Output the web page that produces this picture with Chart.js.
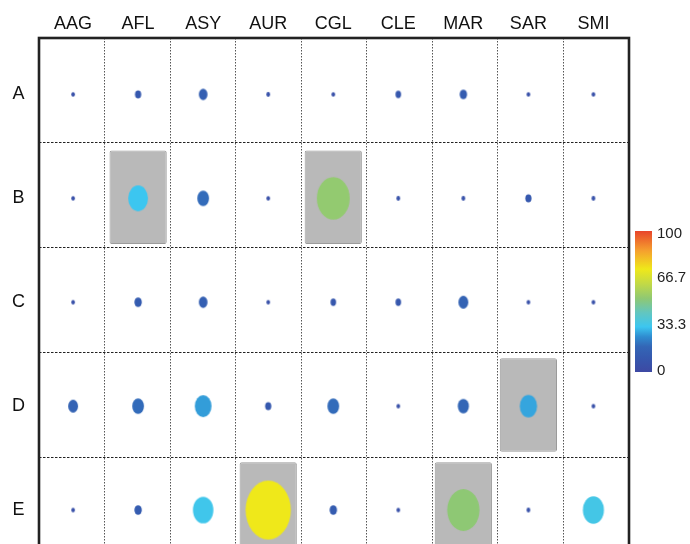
<!DOCTYPE html>
<html>
<head>
<meta charset="utf-8">
<script src="https://cdn.jsdelivr.net/npm/chart.js@4.4.1/dist/chart.umd.min.js"></script>
<style>
  html, body { margin: 0; padding: 0; background: #ffffff; overflow: hidden; }
  #wrap { width: 690px; height: 600px; }
</style>
</head>
<body>
<div id="wrap"><canvas id="grid" width="690" height="600"></canvas></div>
<script>
// Strains (columns) and samples (rows)
const columns = ['AAG', 'AFL', 'ASY', 'AUR', 'CGL', 'CLE', 'MAR', 'SAR', 'SMI'];
const rows = ['A', 'B', 'C', 'D', 'E'];

// Percent values per row, in column order
const rowA = [5, 10, 14, 6, 5, 9, 12, 5, 5];
const rowB = [5, 32, 19, 5, 53, 6, 6, 10, 6];
const rowC = [5, 12, 14, 5, 9, 9, 16, 5, 5];
const rowD = [16, 19, 27, 10, 19, 5, 18, 28, 5];
const rowE = [5, 12, 33, 73, 12, 5, 52, 6, 34];
const rowValues = [rowA, rowB, rowC, rowD, rowE];

// Cells shaded grey: [row, column]
const highlighted = [['B', 'AFL'], ['B', 'CGL'], ['D', 'SAR'], ['E', 'AUR'], ['E', 'MAR']];

// Colour bar tick labels
const barTicks = [0, 33.3, 66.7, 100];
const barTickLabels = ['0', '33.3', '66.7', '100'];

// Colour scale stops (value, colour)
const colorStops = [
  [0, '#3d49a3'], [10, '#3558ae'], [18, '#3366b6'], [25, '#2f8cd0'],
  [32, '#3cc6f0'], [42, '#62c6c0'], [52, '#8ec874'], [63, '#c4da44'],
  [73, '#efe81a'], [86, '#f5a02e'], [100, '#e8452b']
];

function hexRgb(h) {
  const n = parseInt(h.slice(1), 16);
  return [(n >> 16) & 255, (n >> 8) & 255, n & 255];
}
function colorFor(v) {
  v = Math.max(0, Math.min(100, v));
  for (let i = 1; i < colorStops.length; i++) {
    const [v1, c1] = colorStops[i];
    const [v0, c0] = colorStops[i - 1];
    if (v <= v1) {
      const t = (v - v0) / (v1 - v0);
      const a = hexRgb(c0), b = hexRgb(c1);
      const m = a.map((x, k) => Math.round(x + (b[k] - x) * t));
      return `rgb(${m[0]},${m[1]},${m[2]})`;
    }
  }
  return colorStops[colorStops.length - 1][1];
}

// Oval marker: width grows with the value, slightly taller than wide
const spriteCache = {};
function ovalSprite(v) {
  if (spriteCache[v]) return spriteCache[v];
  const w = Math.max(3.6, 0.62 * v);
  const h = w * 1.3;
  const cv = document.createElement('canvas');
  cv.width = Math.ceil(w) + 4;
  cv.height = Math.ceil(h) + 4;
  const g = cv.getContext('2d');
  g.fillStyle = colorFor(v);
  g.beginPath();
  g.ellipse(cv.width / 2, cv.height / 2, w / 2, h / 2, 0, 0, Math.PI * 2);
  g.fill();
  spriteCache[v] = cv;
  return cv;
}

const points = [];
rows.forEach((r, ri) => {
  columns.forEach((c, ci) => {
    points.push({ x: ci + 1, y: ri + 1, v: rowValues[ri][ci] });
  });
});

const boxes = highlighted.map(([r, c]) => {
  const ri = rows.indexOf(r) + 1;
  return { x: columns.indexOf(c) + 1, y: [ri - 0.46, ri + 0.44] };
});

const labelFont = { family: "'Liberation Sans', Arial, sans-serif", size: 18 };

// Frame around the plot area
const framePlugin = {
  id: 'frame',
  afterDraw(chart) {
    const { ctx, chartArea: a } = chart;
    ctx.save();
    ctx.strokeStyle = '#222';
    ctx.lineWidth = 2.6;
    ctx.strokeRect(a.left, a.top, a.right - a.left, a.bottom - a.top);
    ctx.restore();
  }
};

// Vertical colour bar with its tick labels
const colorBarPlugin = {
  id: 'colorBar',
  afterDraw(chart) {
    const { ctx, chartArea: a } = chart;
    const x = a.right + 6, w = 17, top = 231, bottom = 372;
    const grad = ctx.createLinearGradient(0, bottom, 0, top);
    colorStops.forEach(([v, c]) => grad.addColorStop(v / 100, c));
    ctx.save();
    ctx.fillStyle = grad;
    ctx.fillRect(x, top, w, bottom - top);
    ctx.fillStyle = '#222';
    ctx.font = "15px 'Liberation Sans', Arial, sans-serif";
    ctx.textBaseline = 'middle';
    ctx.textAlign = 'left';
    barTicks.forEach((t, i) => {
      let y = bottom - (t / 100) * (bottom - top);
      y = Math.max(top + 3, Math.min(bottom - 1, y));
      ctx.fillText(barTickLabels[i], x + w + 5, y);
    });
    ctx.restore();
  }
};

new Chart(document.getElementById('grid'), {
  type: 'scatter',
  data: {
    datasets: [
      {
        type: 'scatter',
        data: points,
        xAxisID: 'x',
        yAxisID: 'y',
        pointRadius: 4,
        pointStyle: (ctx) => ovalSprite(ctx.raw ? ctx.raw.v : 0),
        order: 1
      },
      {
        type: 'bar',
        data: boxes,
        xAxisID: 'x',
        yAxisID: 'y',
        backgroundColor: '#b9b9b9',
        borderColor: '#9b9b9b',
        borderWidth: 1,
        borderRadius: 2,
        borderSkipped: false,
        barPercentage: 0.88,
        categoryPercentage: 1,
        order: 2
      }
    ]
  },
  options: {
    responsive: false,
    animation: false,
    events: [],
    layout: { padding: 0 },
    plugins: { legend: { display: false }, tooltip: { enabled: false } },
    scales: {
      x: {
        type: 'linear', position: 'top', min: 0.476, max: 9.547, offset: false,
        afterBuildTicks: (s) => { s.ticks = columns.map((_, i) => ({ value: i + 1 })); },
        afterFit: (s) => { s.height = 38; },
        ticks: { callback: (v) => columns[v - 1], font: labelFont, color: '#111', padding: 3, maxRotation: 0, autoSkip: false },
        grid: { display: false, drawTicks: false, offset: false },
        border: { display: false }
      },
      xg: {
        type: 'linear', position: 'bottom', min: 0.5, max: 9.5, offset: false,
        afterBuildTicks: (s) => { s.ticks = Array.from({ length: 10 }, (_, i) => ({ value: i + 0.5 })); },
        afterFit: (s) => { s.height = 38; },
        ticks: { display: false },
        grid: { color: '#555', lineWidth: 1, drawTicks: false, offset: false },
        border: { display: false, dash: [1.5, 1.5] }
      },
      y: {
        type: 'linear', position: 'left', reverse: true, min: 0.457, max: 5.5, offset: false,
        afterBuildTicks: (s) => { s.ticks = rows.map((_, i) => ({ value: i + 1 })); },
        afterFit: (s) => { s.width = 39; },
        ticks: { callback: (v) => rows[v - 1], font: labelFont, color: '#111', padding: 14, crossAlign: 'center', autoSkip: false },
        grid: { display: false, drawTicks: false },
        border: { display: false }
      },
      yg: {
        type: 'linear', position: 'right', reverse: true, min: 0.5, max: 5.5, offset: false,
        afterBuildTicks: (s) => { s.ticks = Array.from({ length: 6 }, (_, i) => ({ value: i + 0.5 })); },
        afterFit: (s) => { s.width = 61; },
        ticks: { display: false },
        grid: { color: '#222', lineWidth: 1, drawTicks: false },
        border: { display: false, dash: [2.5, 1.5] }
      }
    }
  },
  plugins: [framePlugin, colorBarPlugin]
});
</script>
</body>
</html>
